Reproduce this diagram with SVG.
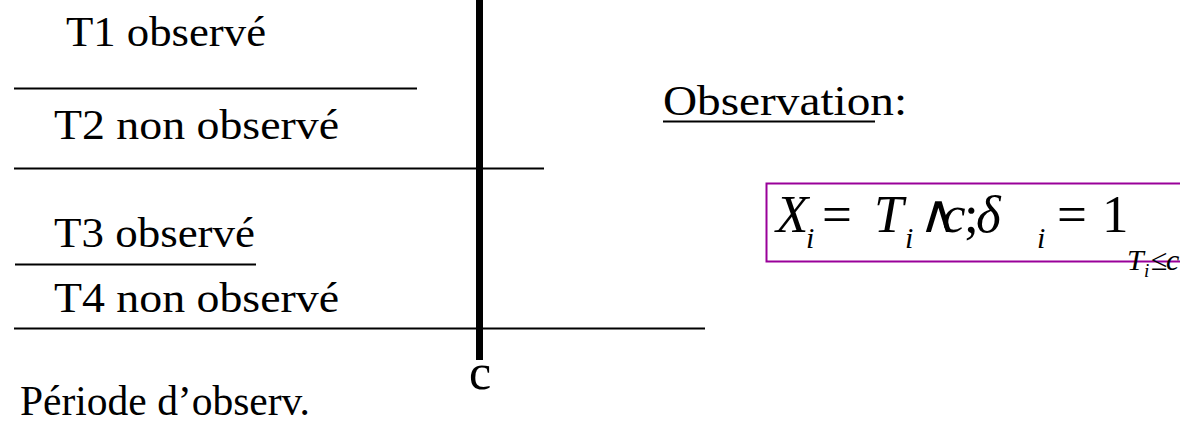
<svg xmlns="http://www.w3.org/2000/svg" width="1180" height="430" viewBox="0 0 1180 430">
  <rect width="1180" height="430" fill="#fff"/>
  <g id="connectors" stroke="#000" stroke-width="2" fill="none">
    <rect id="c-bar" x="476" y="0" width="7" height="360" fill="#000" stroke="none"/>
    <line x1="14" y1="88.5" x2="417" y2="88.5"/>
    <line x1="14" y1="168.5" x2="544" y2="168.5"/>
    <line x1="15" y1="264.5" x2="256" y2="264.5"/>
    <line x1="14" y1="328.5" x2="705" y2="328.5"/>
  </g>
  <g id="t1"><text x="66" y="46" font-family="Times New Roman, serif" font-size="42" textLength="200" lengthAdjust="spacingAndGlyphs">T1 observé</text></g>
  <g id="t2"><text x="54" y="139" font-family="Times New Roman, serif" font-size="42" textLength="285" lengthAdjust="spacingAndGlyphs">T2 non observé</text></g>
  <g id="t3"><text x="54" y="247" font-family="Times New Roman, serif" font-size="42" textLength="201" lengthAdjust="spacingAndGlyphs">T3 observé</text></g>
  <g id="t4"><text x="54" y="312" font-family="Times New Roman, serif" font-size="42" textLength="285" lengthAdjust="spacingAndGlyphs">T4 non observé</text></g>
  <g id="periode"><text x="20" y="415" font-family="Times New Roman, serif" font-size="42" textLength="290" lengthAdjust="spacingAndGlyphs">Période d’observ.</text></g>
  <g id="c-label"><text x="469" y="389" font-family="Times New Roman, serif" font-size="50">c</text></g>
  <g id="observation">
    <text x="663" y="115" font-family="Times New Roman, serif" font-size="42" textLength="244" lengthAdjust="spacingAndGlyphs">Observation:</text>
    <line x1="663" y1="121.5" x2="875" y2="121.5" stroke="#000" stroke-width="2"/>
  </g>
  <g id="formula" font-family="Times New Roman, serif">
    <rect x="766.5" y="183.5" width="420" height="78" fill="#fff" stroke="#990099" stroke-width="2"/>
    <text x="776" y="232" font-size="53" font-style="italic">X</text>
    <text x="806" y="248" font-size="30" font-style="italic">i</text>
    <text x="822" y="232" font-size="53">=</text>
    <text x="874" y="232" font-size="53" font-style="italic">T</text>
    <text x="905" y="248" font-size="30" font-style="italic">i</text>
    <text x="919" y="232" font-size="53">∧</text>
    <text x="942" y="232" font-size="53" font-style="italic">c</text>
    <text x="964" y="232" font-size="53">;</text>
    <text x="976" y="232" font-size="53" font-style="italic">δ</text>
    <text x="1037" y="248" font-size="30" font-style="italic">i</text>
    <text x="1057" y="232" font-size="53">=</text>
    <text x="1102" y="232" font-size="53">1</text>
    <text x="1127" y="270" font-size="30" font-style="italic">T</text>
    <text x="1144" y="277" font-size="19" font-style="italic">i</text>
    <text x="1151" y="270" font-size="30">≤</text>
    <text x="1166" y="270" font-size="30" font-style="italic">c</text>
  </g>
</svg>
